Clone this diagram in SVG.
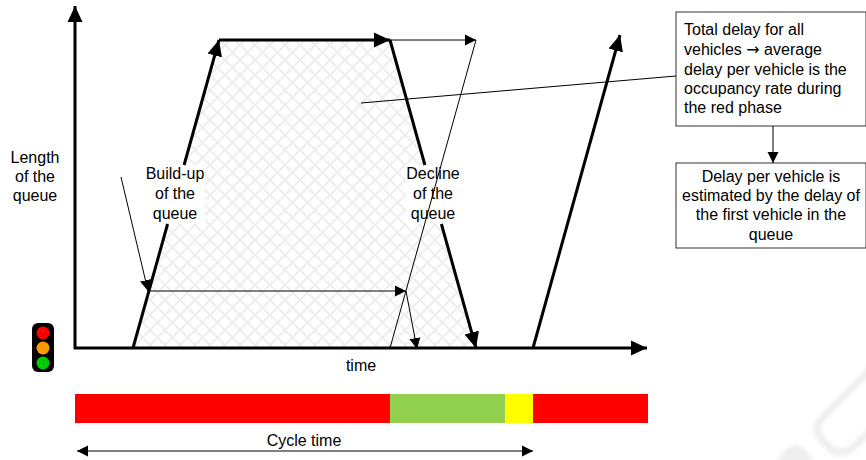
<svg xmlns="http://www.w3.org/2000/svg" width="866" height="460" viewBox="0 0 866 460">
<style>
text{font-family:"Liberation Sans",Arial,sans-serif;font-size:16px;fill:#000}
.m{text-anchor:middle}
.thick{fill:none;stroke:#000;stroke-width:3}
.thin{fill:none;stroke:#000;stroke-width:1}
.box{fill:#fff;stroke:#333;stroke-width:1}
.arrow{font-family:"DejaVu Sans",sans-serif}
</style>
<defs>
<pattern id="hatch" width="15" height="15" patternUnits="userSpaceOnUse">
<path d="M-1 -1L16 16M-1 16L16 -1" stroke="#eeeeee" stroke-width="2" fill="none"/>
</pattern>
<filter id="soft" x="-20%" y="-20%" width="140%" height="140%"><feGaussianBlur stdDeviation="2"/></filter>
<marker id="big" markerUnits="userSpaceOnUse" markerWidth="17" markerHeight="16" refX="16" refY="8" orient="auto"><path d="M0 0.5L16 8L0 15.5Z" fill="#000"/></marker>
<marker id="small" markerUnits="userSpaceOnUse" markerWidth="12" markerHeight="12" refX="11" refY="6" orient="auto"><path d="M0 0.5L11 6L0 11.5Z" fill="#000"/></marker>
<marker id="smallS" markerUnits="userSpaceOnUse" markerWidth="12" markerHeight="12" refX="0" refY="6" orient="auto"><path d="M11 0.5L0 6L11 11.5Z" fill="#000"/></marker>
</defs>
<rect width="866" height="460" fill="#fff"/>
<g id="watermark" filter="url(#soft)">
<path d="M872 368L822 418Q812 430 824 442L832 450Q842 456 852 448L872 430" fill="none" stroke="#eeeeee" stroke-width="7"/>
<path d="M775 462L790 446Q797 442 806 450L815 462Z" fill="#eeeeee"/>
</g>
<path id="queue-area" d="M133 348L219 40L390 40L476 348Z" fill="url(#hatch)"/>
<g id="axis-y-label"><text class="m" x="35" y="163">Length</text><text class="m" x="35" y="182">of the</text><text class="m" x="35" y="201">queue</text></g>
<g id="axis-x-label"><text class="m" x="361" y="371">time</text></g>
<g id="build-up-label"><rect x="146" y="165" width="59" height="59" fill="#fff"/><text class="m" x="175" y="179">Build-up</text><text class="m" x="175" y="199">of the</text><text class="m" x="175" y="219">queue</text></g>
<g id="decline-label"><rect x="406" y="165" width="54" height="59" fill="#fff"/><text class="m" x="433" y="179">Decline</text><text class="m" x="433" y="199">of the</text><text class="m" x="433" y="219">queue</text></g>
<g id="traffic-light">
<rect x="32" y="323" width="22" height="49" rx="6" fill="#000"/>
<circle cx="43" cy="333" r="6.5" fill="#ff0000"/>
<circle cx="43" cy="348" r="6.5" fill="#ff9900"/>
<circle cx="43" cy="363" r="6.5" fill="#00cc00"/>
</g>
<g id="phase-bar">
<rect x="75" y="394" width="315" height="29" fill="#ff0000"/>
<rect x="390" y="394" width="115" height="29" fill="#92d050"/>
<rect x="505" y="394" width="28" height="29" fill="#ffff00"/>
<rect x="533" y="394" width="115" height="29" fill="#ff0000"/>
</g>
<g id="cycle-label"><text class="m" x="304" y="446">Cycle time</text></g>
<g id="total-delay">
<rect class="box" x="676" y="12" width="190" height="114"/>
<text x="684" y="35">Total delay for all</text>
<text x="684" y="55">vehicles <tspan class="arrow">→</tspan> average</text>
<text x="684" y="75">delay per vehicle is the</text>
<text x="684" y="94">occupancy rate during</text>
<text x="684" y="113">the red phase</text>
</g>
<g id="per-vehicle">
<rect class="box" x="676" y="163" width="190" height="85"/>
<text class="m" x="771" y="182">Delay per vehicle is</text>
<text class="m" x="771" y="201">estimated by the delay of</text>
<text class="m" x="771" y="220">the first vehicle in the</text>
<text class="m" x="771" y="240">queue</text>
</g>
<g id="connectors">
<path class="thick" d="M75 349L75 6" marker-end="url(#big)"/>
<path class="thick" d="M74 348L647 348" marker-end="url(#big)"/>
<path class="thick" d="M133 348L167.600 224M184.100 165L219 40" marker-end="url(#big)"/>
<path class="thick" d="M219 40L390 40" marker-end="url(#big)"/>
<path class="thick" d="M390 40L424.900 165M441.400 224L476 348" marker-end="url(#big)"/>
<path class="thick" d="M533 348L620 35" marker-end="url(#big)"/>
<path class="thin" d="M390 40L476 40" marker-end="url(#small)"/>
<path class="thin" d="M476 40L390 348"/>
<path class="thin" d="M148 291L406 291" marker-end="url(#small)"/>
<path class="thin" d="M406 291L417 349" marker-end="url(#small)"/>
<path class="thin" d="M121 177L148 291" marker-end="url(#small)"/>
<path class="thin" d="M361 103L676 76"/>
<path class="thin" d="M773 126L773 163" marker-end="url(#small)"/>
<path class="thin" d="M77 451L533 451" marker-start="url(#smallS)" marker-end="url(#small)"/>
</g>
</svg>
